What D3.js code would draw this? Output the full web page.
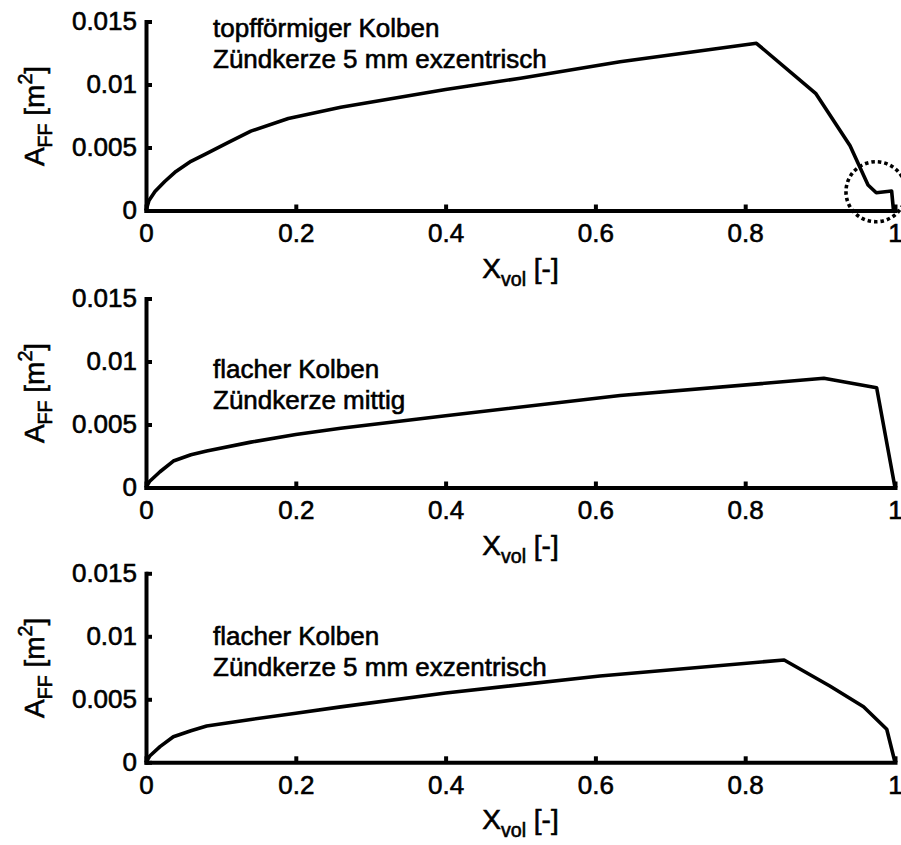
<!DOCTYPE html>
<html>
<head>
<meta charset="utf-8">
<script src="https://cdn.jsdelivr.net/npm/d3@7/dist/d3.min.js"></script>
<style>
  html, body { margin: 0; padding: 0; background: #fff; }
  svg text { font-family: "Liberation Sans", Arial, Helvetica, sans-serif; fill: #000; stroke: #000; stroke-width: 0.6px; }
</style>
</head>
<body>
<svg id="chart" width="901" height="845"></svg>
<script>
// Flame front area A_FF over burned volume fraction X_vol, three piston / spark plug setups
const xTickValues = [0, 0.2, 0.4, 0.6, 0.8, 1];
const xTickLabels = ["0", "0.2", "0.4", "0.6", "0.8", "1"];
const yTickValues = [0, 0.005, 0.01, 0.015];
const yTickLabels = ["0", "0.005", "0.01", "0.015"];

const panelTitles = [
  ["topfförmiger Kolben", "Zündkerze 5 mm exzentrisch"],
  ["flacher Kolben", "Zündkerze mittig"],
  ["flacher Kolben", "Zündkerze 5 mm exzentrisch"]
];

// topfförmiger Kolben, Zündkerze 5 mm exzentrisch
const xvol1 = [0, 0.004, 0.012, 0.025, 0.04, 0.06, 0.08, 0.11, 0.14, 0.19, 0.26, 0.4, 0.5, 0.633, 0.815, 0.894, 0.94, 0.964, 0.975, 0.9955, 0.998];
const aff1  = [0, 0.0008, 0.0015, 0.0023, 0.0031, 0.0039, 0.0045, 0.0054, 0.0063, 0.0073, 0.0082, 0.0096, 0.0105, 0.0118, 0.01327, 0.0093, 0.00514, 0.00202, 0.00141, 0.00155, 0];

// flacher Kolben, Zündkerze mittig
const xvol2 = [0, 0.005, 0.0187, 0.0365, 0.06, 0.081, 0.14, 0.2, 0.26, 0.4, 0.633, 0.905, 0.9755, 1];
const aff2  = [0, 0.0005, 0.00125, 0.0021, 0.0026, 0.0029, 0.0036, 0.0042, 0.0047, 0.0057, 0.0073, 0.00867, 0.00792, 0];

// flacher Kolben, Zündkerze 5 mm exzentrisch
const xvol3 = [0, 0.005, 0.0187, 0.0365, 0.06, 0.081, 0.14, 0.2, 0.26, 0.4, 0.606, 0.852, 0.913, 0.958, 0.989, 1];
const aff3  = [0, 0.0005, 0.00124, 0.00203, 0.0025, 0.00288, 0.0034, 0.0039, 0.0044, 0.0055, 0.00685, 0.00812, 0.00606, 0.00441, 0.00262, 0];

// dotted highlight around the small plateau near the end of the first curve
const markCenter = [0.9746, 0.00149];
const markRadius = 30;

const series = [
  xvol1.map((x, i) => [x, aff1[i]]),
  xvol2.map((x, i) => [x, aff2[i]]),
  xvol3.map((x, i) => [x, aff3[i]])
];

const svg = d3.select("#chart");
svg.append("rect").attr("width", 901).attr("height", 845).attr("fill", "#fff");

const left = 146, right = 895;
const panelBottoms = [210.5, 487.5, 762.3];
const panelHeight = 189;

const x = d3.scaleLinear().domain([0, 1]).range([left, right]);

const tickFont = 26;
const labelFont = 28;
const noteFont = 26;

panelBottoms.forEach((bottom, p) => {
  const y = d3.scaleLinear().domain([0, 0.015]).range([bottom, bottom - panelHeight]);
  const g = svg.append("g");

  // curve
  g.append("path")
    .datum(series[p])
    .attr("fill", "none")
    .attr("stroke", "#000")
    .attr("stroke-width", 3.6)
    .attr("stroke-linejoin", "round")
    .attr("d", d3.line().x(d => x(d[0])).y(d => y(d[1])));

  // axes
  const xAxis = d3.axisBottom(x)
    .tickValues(xTickValues)
    .tickFormat((d, i) => xTickLabels[i])
    .tickSizeInner(-6).tickSizeOuter(0).tickPadding(13);
  const yAxis = d3.axisLeft(y)
    .tickValues(yTickValues)
    .tickFormat((d, i) => yTickLabels[i])
    .tickSizeInner(-6).tickSizeOuter(0).tickPadding(9);

  const gx = g.append("g").attr("transform", `translate(0,${bottom})`).call(xAxis);
  const gy = g.append("g").attr("transform", `translate(${left},0)`).call(yAxis);
  [gx, gy].forEach(a => {
    a.select(".domain").attr("stroke", "#000").attr("stroke-width", 4).attr("stroke-linecap", "square");
    a.selectAll(".tick line").attr("stroke", "#000").attr("stroke-width", 4);
    a.selectAll(".tick text").attr("font-size", tickFont).attr("font-family", null).attr("fill", "#000");
  });

  // x axis label
  const xl = g.append("text")
    .attr("x", (left + right) / 2)
    .attr("y", bottom + 67)
    .attr("text-anchor", "middle")
    .attr("font-size", labelFont);
  xl.append("tspan").text("X");
  xl.append("tspan").attr("font-size", labelFont * 0.7).attr("dy", 8).text("vol");
  xl.append("tspan").attr("dy", -8).text(" [-]");

  // y axis label
  const yl = g.append("text")
    .attr("transform", `translate(44,${bottom - panelHeight / 2}) rotate(-90)`)
    .attr("text-anchor", "middle")
    .attr("font-size", labelFont);
  yl.append("tspan").text("A");
  yl.append("tspan").attr("font-size", labelFont * 0.7).attr("dy", 8).text("FF");
  yl.append("tspan").attr("dy", -8).text(" [m");
  yl.append("tspan").attr("font-size", labelFont * 0.7).attr("dy", -12).text("2");
  yl.append("tspan").attr("dy", 12).text("]");

  // annotation
  const noteY = [37, 378, 645][p];
  panelTitles[p].forEach((line, k) => {
    g.append("text")
      .attr("x", 213)
      .attr("y", noteY + k * 30.5)
      .attr("font-size", noteFont)
      .text(line);
  });

  if (p === 0) {
    g.append("circle")
      .attr("cx", x(markCenter[0]))
      .attr("cy", y(markCenter[1]))
      .attr("r", markRadius)
      .attr("fill", "none")
      .attr("stroke", "#000")
      .attr("stroke-width", 3.6)
      .attr("stroke-dasharray", "3.5 3");
  }
});
</script>
</body>
</html>
